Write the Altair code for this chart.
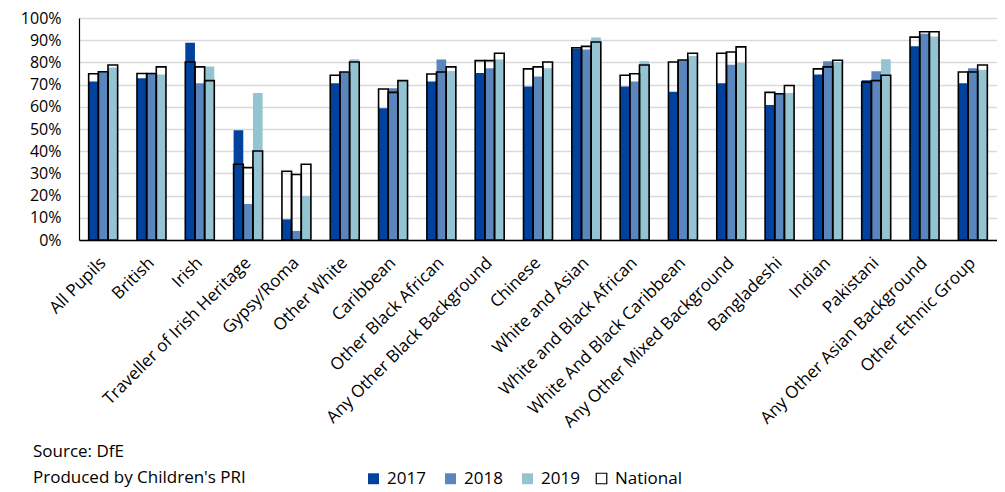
import altair as alt
import pandas as pd

categories = ["All Pupils", "British", "Irish", "Traveller of Irish Heritage", "Gypsy/Roma",
              "Other White", "Caribbean", "Other Black African", "Any Other Black Background",
              "Chinese", "White and Asian", "White and Black African", "White And Black Caribbean",
              "Any Other Mixed Background", "Bangladeshi", "Indian", "Pakistani",
              "Any Other Asian Background", "Other Ethnic Group"]
years = ["2017", "2018", "2019"]

v2017 = [71.4, 72.9, 88.8, 49.4, 9.3, 70.6, 59.3, 71.4, 75.2, 69.2, 86.3, 69.2, 66.8, 70.6, 60.8, 74.6, 72.0, 87.3, 70.6]
v2018 = [75.8, 75.0, 70.6, 16.2, 4.1, 75.7, 68.3, 81.3, 77.4, 73.7, 85.8, 71.4, 81.0, 78.9, 65.9, 80.5, 76.0, 92.9, 77.4]
v2019 = [77.7, 74.5, 78.2, 66.2, 19.9, 81.4, 71.8, 76.1, 81.3, 77.4, 91.2, 80.5, 82.9, 79.8, 66.2, 80.2, 81.4, 91.7, 76.7]

n2017 = [74.9, 75.0, 80.2, 34.1, 31.0, 74.2, 68.0, 74.8, 80.8, 77.1, 86.6, 74.2, 80.2, 84.1, 66.5, 77.1, 71.1, 91.4, 75.7]
n2018 = [75.8, 75.0, 78.0, 32.6, 29.5, 75.7, 66.5, 75.7, 80.8, 78.0, 87.2, 74.9, 81.1, 84.7, 65.9, 78.0, 71.8, 93.8, 75.7]
n2019 = [78.8, 78.0, 71.8, 40.1, 34.1, 80.2, 71.8, 78.0, 84.1, 80.2, 89.2, 78.8, 84.1, 87.0, 69.6, 81.0, 74.2, 93.8, 78.8]

y_ticks = [0, 10, 20, 30, 40, 50, 60, 70, 80, 90, 100]

colors = ["#00429d", "#5a85bd", "#94c4d1"]

rows = []
for i, c in enumerate(categories):
    for y, vals, nats in zip(years, [v2017, v2018, v2019], [n2017, n2018, n2019]):
        rows.append({"cat": c, "year": y, "value": vals[i], "national": nats[i], "nat_label": "National"})
df = pd.DataFrame(rows)

FONT = "Open Sans"
FS = 17
W, H = 918, 222
TOP = 10

x_enc = alt.X("cat:N", sort=categories, title=None,
              scale=alt.Scale(paddingInner=0.4, paddingOuter=0.2),
              axis=alt.Axis(labelAngle=-45, labelAlign="right", labelBaseline="middle",
                            labelPadding=20, ticks=False, labelLimit=400, labelOverlap=False,
                            domainColor="#000000", domainWidth=1.5, grid=False))
xoff = alt.XOffset("year:N", sort=years, scale=alt.Scale(paddingInner=0, paddingOuter=0))

y_axis = alt.Axis(values=y_ticks, tickCount=20, labelExpr="datum.value + '%'", grid=True,
                  gridColor="#d9d9d9", gridWidth=1.5, ticks=False, labelPadding=18,
                  labelOverlap=False, labelFlush=False, labelFontSize=16,
                  domainColor="#000000", domainWidth=1.2)
y_scale = alt.Scale(domain=[0, 100], nice=False)

bars = alt.Chart(df).mark_bar().encode(
    x=x_enc, xOffset=xoff,
    y=alt.Y("value:Q", title=None, scale=y_scale, axis=y_axis),
    fill=alt.Fill("year:N", scale=alt.Scale(domain=years, range=colors),
                  legend=alt.Legend(title=None, orient="none", direction="horizontal",
                                    legendX=286, legendY=452, symbolType="square", symbolSize=120,
                                    symbolStrokeWidth=0, columnPadding=16, labelOffset=5)),
)

nat = alt.Chart(df).mark_bar(fill="transparent", strokeWidth=1.6).encode(
    x=x_enc, xOffset=xoff,
    y=alt.Y("national:Q", title=None, scale=y_scale, axis=y_axis),
    stroke=alt.Stroke("nat_label:N", scale=alt.Scale(domain=["National"], range=["#000000"]),
                      legend=alt.Legend(title=None, orient="none", direction="horizontal",
                                        legendX=514, legendY=452, symbolType="square", symbolSize=110,
                                        symbolFillColor="white", symbolStrokeWidth=1.2, labelOffset=5)),
)

src = alt.Chart(pd.DataFrame({"t": ["Source: DfE"]})).mark_text(
    align="left", baseline="middle", font=FONT, fontSize=FS, color="#000000"
).encode(text="t:N", x=alt.value(-46), y=alt.value(434))
prod = alt.Chart(pd.DataFrame({"t": ["Produced by Children's PRI"]})).mark_text(
    align="left", baseline="middle", font=FONT, fontSize=FS, color="#000000"
).encode(text="t:N", x=alt.value(-46), y=alt.value(460))

chart = alt.layer(bars, nat, src, prod).properties(
    width=W, height=H,
    autosize=alt.AutoSizeParams(type="none"),
    padding={"left": 71, "top": TOP, "right": 0, "bottom": 252},
).configure_view(stroke=None).configure_axis(
    labelFont=FONT, labelFontSize=FS, labelColor="#000000"
).configure_legend(
    labelFont=FONT, labelFontSize=FS, labelColor="#000000"
)

chart.save("out.html", embed_options={"renderer": "svg", "actions": False})
